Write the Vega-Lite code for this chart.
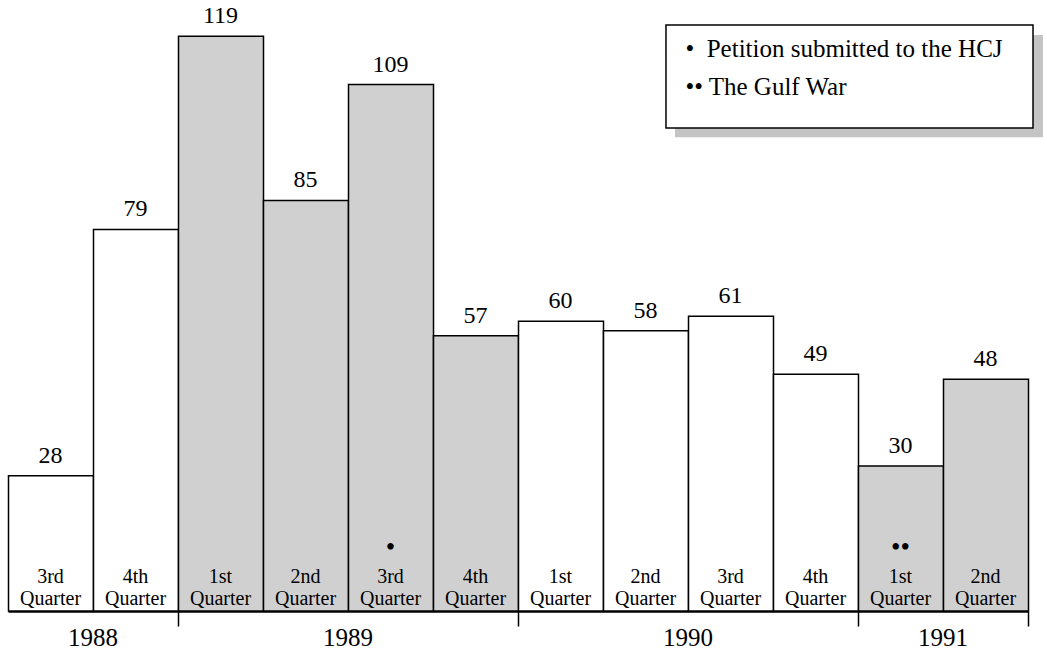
{
  "$schema": "https://vega.github.io/schema/vega-lite/v6.json",
  "width": 1020,
  "height": 611,
  "autosize": {"type": "none"},
  "padding": {"left": 8, "top": 0, "right": 19, "bottom": 42},
  "background": "white",
  "config": {
    "view": {"stroke": null},
    "font": "Liberation Serif",
    "text": {"font": "Liberation Serif", "color": "black"}
  },
  "datasets": {
    "quarters": [
      {"q": 1, "year": 1988, "quarter": "3rd", "count": 28},
      {"q": 2, "year": 1988, "quarter": "4th", "count": 79},
      {"q": 3, "year": 1989, "quarter": "1st", "count": 119},
      {"q": 4, "year": 1989, "quarter": "2nd", "count": 85},
      {"q": 5, "year": 1989, "quarter": "3rd", "count": 109, "note": "•"},
      {"q": 6, "year": 1989, "quarter": "4th", "count": 57},
      {"q": 7, "year": 1990, "quarter": "1st", "count": 60},
      {"q": 8, "year": 1990, "quarter": "2nd", "count": 58},
      {"q": 9, "year": 1990, "quarter": "3rd", "count": 61},
      {"q": 10, "year": 1990, "quarter": "4th", "count": 49},
      {"q": 11, "year": 1991, "quarter": "1st", "count": 30, "note": "••"},
      {"q": 12, "year": 1991, "quarter": "2nd", "count": 48}
    ]
  },
  "data": {"name": "quarters"},
  "layer": [
    {
      "mark": {"type": "bar", "stroke": "black", "strokeWidth": 1.5, "binSpacing": 0},
      "encoding": {
        "x": {
          "field": "q", "type": "quantitative",
          "bin": {"step": 1, "extent": [0.5, 12.5], "nice": false},
          "scale": {"domain": [0.5, 12.5], "nice": false, "zero": false},
          "axis": {"values": [2.5, 6.5, 10.5, 12.5], "labels": false, "title": null, "grid": false,
                   "domainColor": "black", "domainWidth": 2.5, "tickColor": "black", "tickWidth": 1.5, "tickSize": 15}
        },
        "y": {"field": "count", "type": "quantitative", "scale": {"domain": [0, 126.5], "nice": false, "zero": true}, "axis": null},
        "fill": {"field": "year", "type": "nominal",
                 "scale": {"domain": [1988, 1989, 1990, 1991], "range": ["white", "#d0d0d0", "white", "#d0d0d0"]},
                 "legend": null}
      }
    },
    {
      "mark": {"type": "text", "fontSize": 20, "baseline": "alphabetic"},
      "encoding": {
        "x": {"field": "q", "type": "quantitative"},
        "y": {"datum": 5.75},
        "text": {"field": "quarter"}
      }
    },
    {
      "mark": {"type": "text", "fontSize": 20, "baseline": "alphabetic"},
      "encoding": {
        "x": {"field": "q", "type": "quantitative"},
        "y": {"datum": 1.15},
        "text": {"value": "Quarter"}
      }
    },
    {
      "mark": {"type": "text", "fontSize": 24, "baseline": "alphabetic", "dy": -13},
      "encoding": {
        "x": {"field": "q", "type": "quantitative"},
        "y": {"field": "count", "type": "quantitative"},
        "text": {"field": "count", "type": "quantitative"}
      }
    },
    {
      "transform": [{"filter": "isValid(datum.note)"}],
      "mark": {"type": "text", "fontSize": 27, "baseline": "middle"},
      "encoding": {
        "x": {"field": "q", "type": "quantitative"},
        "y": {"datum": 13},
        "text": {"field": "note"}
      }
    },
    {
      "transform": [{"aggregate": [{"op": "mean", "field": "q", "as": "qm"}], "groupby": ["year"]}],
      "mark": {"type": "text", "fontSize": 25, "baseline": "alphabetic"},
      "encoding": {
        "x": {"field": "qm", "type": "quantitative"},
        "y": {"datum": -7.3},
        "text": {"field": "year", "type": "nominal"}
      }
    },
    {
      "data": {"values": [{}]},
      "mark": {"type": "rect", "fill": "#c4c4c4"},
      "encoding": {
        "x": {"datum": 8.347}, "x2": {"datum": 12.676},
        "y": {"datum": 119.25}, "y2": {"datum": 98.1}
      }
    },
    {
      "data": {"values": [{}]},
      "mark": {"type": "rect", "fill": "white", "stroke": "black", "strokeWidth": 1.5},
      "encoding": {
        "x": {"datum": 8.241}, "x2": {"datum": 12.559},
        "y": {"datum": 121.3}, "y2": {"datum": 100.0}
      }
    },
    {
      "data": {"values": [{}]},
      "mark": {"type": "text", "fontSize": 25, "align": "left", "baseline": "alphabetic"},
      "encoding": {
        "x": {"datum": 8.47}, "y": {"datum": 114.7},
        "text": {"value": "•\u00a0\u00a0Petition submitted to the HCJ"}
      }
    },
    {
      "data": {"values": [{}]},
      "mark": {"type": "text", "fontSize": 25, "align": "left", "baseline": "alphabetic"},
      "encoding": {
        "x": {"datum": 8.47}, "y": {"datum": 106.8},
        "text": {"value": "•• The Gulf War"}
      }
    }
  ]
}
